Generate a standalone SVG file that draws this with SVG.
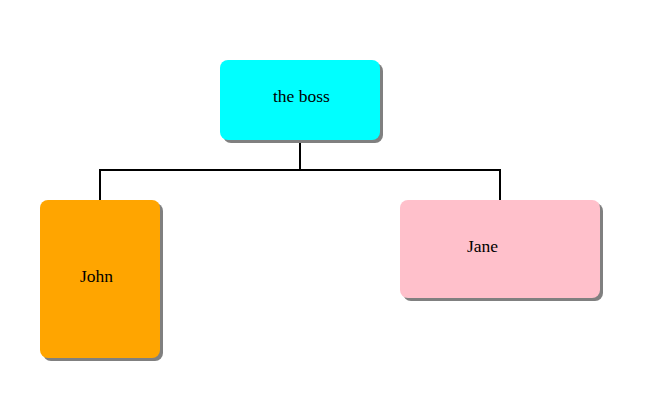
<svg xmlns="http://www.w3.org/2000/svg" width="650" height="400" viewBox="0 0 650 400">
<defs>
<style>
.shadow{fill:#808080}
.lbl{font-family:"Liberation Serif","Times New Roman",serif;font-size:17.5px;fill:#000}
.conn{fill:none;stroke:#000;stroke-width:2}
</style>
</defs>
<rect width="650" height="400" fill="#fff"/>
<g id="connectors">
<path class="conn" d="M300,140 V170 M100,170 H500 M100,169 V200 M500,169 V200"/>
</g>
<g id="boss">
<rect class="shadow" x="223" y="63" width="160" height="80" rx="8"/>
<rect x="220" y="60" width="160" height="80" rx="8" fill="#00ffff"/>
<text class="lbl" x="273" y="102">the boss</text>
</g>
<g id="john">
<rect class="shadow" x="43" y="203" width="120" height="158" rx="8"/>
<rect x="40" y="200" width="120" height="158" rx="8" fill="#ffa500"/>
<text class="lbl" x="80" y="282">John</text>
</g>
<g id="jane">
<rect class="shadow" x="403" y="203" width="200" height="98" rx="8"/>
<rect x="400" y="200" width="200" height="98" rx="8" fill="#ffc0cb"/>
<text class="lbl" x="467" y="252">Jane</text>
</g>
</svg>
